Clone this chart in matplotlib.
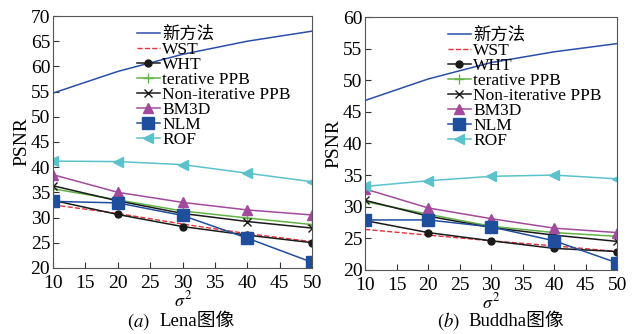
import numpy as np
import matplotlib.pyplot as plt

plt.rcParams['font.family'] = ['Liberation Serif', 'Noto Sans CJK SC']
plt.rcParams['mathtext.fontset'] = 'stix'

sigma2 = [10, 20, 30, 40, 50]
labels = ['新方法', 'WST', 'WHT', 'terative PPB', 'Non-iterative PPB', 'BM3D', 'NLM', 'ROF']

# (a) Lena
lena_new = [54.7, 59.0, 62.4, 65.0, 67.0]
lena_wst = [32.5, 30.8, 28.7, 26.8, 25.2]
lena_wht = [33.4, 30.6, 28.2, 26.5, 25.0]
lena_ippb = [35.7, 33.5, 31.3, 29.9, 28.6]
lena_nppb = [36.3, 33.3, 30.8, 29.2, 27.9]
lena_bm3d = [38.5, 35.0, 33.0, 31.5, 30.5]
lena_nlm = [33.2, 32.9, 30.4, 25.9, 21.1]
lena_rof = [41.2, 41.1, 40.5, 38.8, 37.1]

# (b) Buddha
bud_new = [46.8, 50.2, 52.8, 54.5, 55.8]
bud_wst = [26.4, 25.5, 24.6, 23.8, 22.9]
bud_wht = [27.8, 25.9, 24.6, 23.4, 22.9]
bud_ippb = [30.8, 28.8, 26.9, 25.9, 25.3]
bud_nppb = [31.0, 28.5, 26.7, 25.5, 24.5]
bud_bm3d = [32.8, 29.8, 28.1, 26.6, 25.9]
bud_nlm = [27.9, 27.9, 26.8, 24.6, 21.1]
bud_rof = [33.2, 34.1, 34.8, 35.0, 34.4]

styles = [
    dict(color='#2b4fa8', lw=1.1),
    dict(color='#e8303a', lw=1.0, ls='--'),
    dict(color='#1a1a1a', lw=1.1, marker='o', ms=5),
    dict(color='#62b347', lw=1.1, marker='+', ms=7),
    dict(color='#1a1a1a', lw=1.1, marker='x', ms=6),
    dict(color='#a24a9c', lw=1.1, marker='^', ms=7),
    dict(color='#1f4e9c', lw=1.1, marker='s', ms=8),
    dict(color='#5bc2cb', lw=1.1, marker='<', ms=7),
]

fig = plt.figure(figsize=(6.35, 3.34), dpi=100)
ax1 = fig.add_axes([0.0835, 0.198, 0.408, 0.754])
ax2 = fig.add_axes([0.575, 0.192, 0.397, 0.757])

lena = [lena_new, lena_wst, lena_wht, lena_ippb, lena_nppb, lena_bm3d, lena_nlm, lena_rof]
bud = [bud_new, bud_wst, bud_wht, bud_ippb, bud_nppb, bud_bm3d, bud_nlm, bud_rof]


def draw(ax, series, ylim, yticks, tag, name, legx, ty):
    for s, lab, st in zip(series, labels, styles):
        if lab == '新方法':
            xs = np.linspace(10, 50, 100)
            ax.plot(xs, np.interp(xs, sigma2, s), label=lab, **st)
        else:
            ax.plot(sigma2, s, label=lab, **st)
    ax.set_xlim(10, 50)
    ax.set_ylim(*ylim)
    ax.set_xticks(range(10, 51, 5))
    ax.set_yticks(yticks)
    ax.tick_params(direction='in', labelsize=14, length=4, color='#333333')
    ax.tick_params(axis='x', pad=5)
    ax.tick_params(axis='y', pad=2)
    for sp in ax.spines.values():
        sp.set_color('#555555')
    ax.set_ylabel('PSNR', fontsize=14, labelpad=0)
    ax.set_xlabel(r'$\sigma^2$', fontsize=13, labelpad=-1)
    ax.text(0.376, ty, tag, transform=ax.transAxes, ha='right', va='center', fontsize=13.5)
    ax.text(0.41, ty, name, transform=ax.transAxes, ha='left', va='center', fontsize=13.5)
    ax.legend(loc='upper left', bbox_to_anchor=(legx, 0.973), frameon=False, fontsize=12.5,
              handlelength=1.3, handletextpad=0.15, labelspacing=-0.06, borderpad=0.2,
              borderaxespad=0)


draw(ax1, lena, (20, 70), range(20, 71, 5), r'$(a)$', 'Lena图像', 0.311, -0.212)
draw(ax2, bud, (20, 60), range(20, 61, 5), r'$(b)$', 'Buddha图像', 0.315, -0.203)

fig.savefig('out.png', dpi=100)
